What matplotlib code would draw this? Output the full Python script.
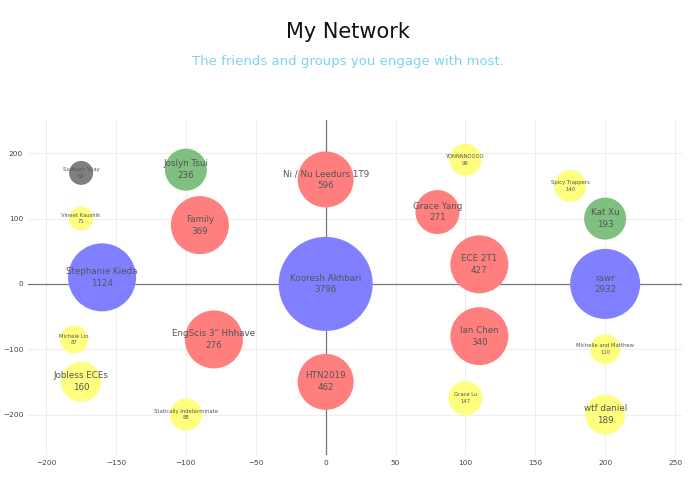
import matplotlib
matplotlib.use("Agg")
import matplotlib.pyplot as plt

names = ["Sudharh Vijay", "Joslyn Tsui", "Vineet Kaushik", "Family", "Stephanie Kieda",
         "Michele Lin", "EngScis 3\" Hhhave", "Jobless ECEs", "Statically Indeterminate",
         "Kooresh Akhbari", "Ni / Nu Leedurs 1T9", "HTN2019", "YONNNNOOOO", "Grace Yang",
         "ECE 2T1", "Spicy Trappers", "Kat Xu", "rawr", "Ian Chen", "Michelle and Matthew",
         "Grace Lu", "wtf daniel"]
counts = [69, 236, 71, 369, 1124, 87, 276, 160, 88, 3796, 596, 462, 99, 271, 427, 140, 193,
          2932, 340, 110, 147, 189]
xs = [-175, -100, -175, -90, -160, -180, -80, -175, -100, 0, 0, 0, 100, 80, 110, 175, 200,
      200, 110, 200, 100, 200]
ys = [170, 175, 100, 90, 10, -85, -85, -150, -200, 0, 160, -150, 190, 110, 30, 150, 100,
      0, -80, -100, -175, -200]
groups = ["gray", "green", "yellow", "red", "blue", "yellow", "red", "yellow", "yellow", "blue",
          "red", "red", "yellow", "red", "red", "yellow", "green", "blue", "red", "yellow",
          "yellow", "yellow"]
radius_px = [12, 21, 12, 29, 34, 14, 29, 20, 16, 47, 28, 28, 16, 22, 29, 16, 21, 35, 29, 15, 17, 20]

palette = {"gray": "#7f7f7f", "green": "#7fbf7f", "yellow": "#ffff7f",
           "red": "#ff7f7f", "blue": "#7f7fff"}

fig = plt.figure(figsize=(6.95, 4.94), dpi=100)
ax = fig.add_axes([28/695, 1-455/494, (682-28)/695, (455-120)/494])
ax.set_xlim(-213, 255)
ax.set_ylim(-262, 251)

s = [(2*r*0.72)**2 for r in radius_px]
ax.scatter(xs, ys, s=s, c=[palette[g] for g in groups], edgecolors="none", zorder=3)
for n, c, x, y, r in zip(names, counts, xs, ys, radius_px):
    fs = 6.3 if r >= 19 else 3.8
    ax.text(x, y, f"{n}\n{c}", ha="center", va="center", fontsize=fs, color="#555555",
            zorder=4, linespacing=1.4)

ax.axhline(0, color="#777777", lw=0.9, zorder=2)
ax.axvline(0, color="#777777", lw=0.9, zorder=2)
ax.set_xticks([-200, -150, -100, -50, 0, 50, 100, 150, 200, 250])
ax.set_yticks([-200, -100, 0, 100, 200])
ax.grid(True, color="#eeeeee", lw=0.8, zorder=1)
for sp in ax.spines.values():
    sp.set_visible(False)
ax.tick_params(length=0, labelsize=5.3, colors="#444444")

fig.text(0.5, 1-32/494, "My Network", ha="center", va="center", fontsize=15, color="#111111")
fig.text(0.5, 1-62/494, "The friends and groups you engage with most.", ha="center",
         va="center", fontsize=9.5, color="#7fd3f0")
fig.savefig("out.png", dpi=100)
